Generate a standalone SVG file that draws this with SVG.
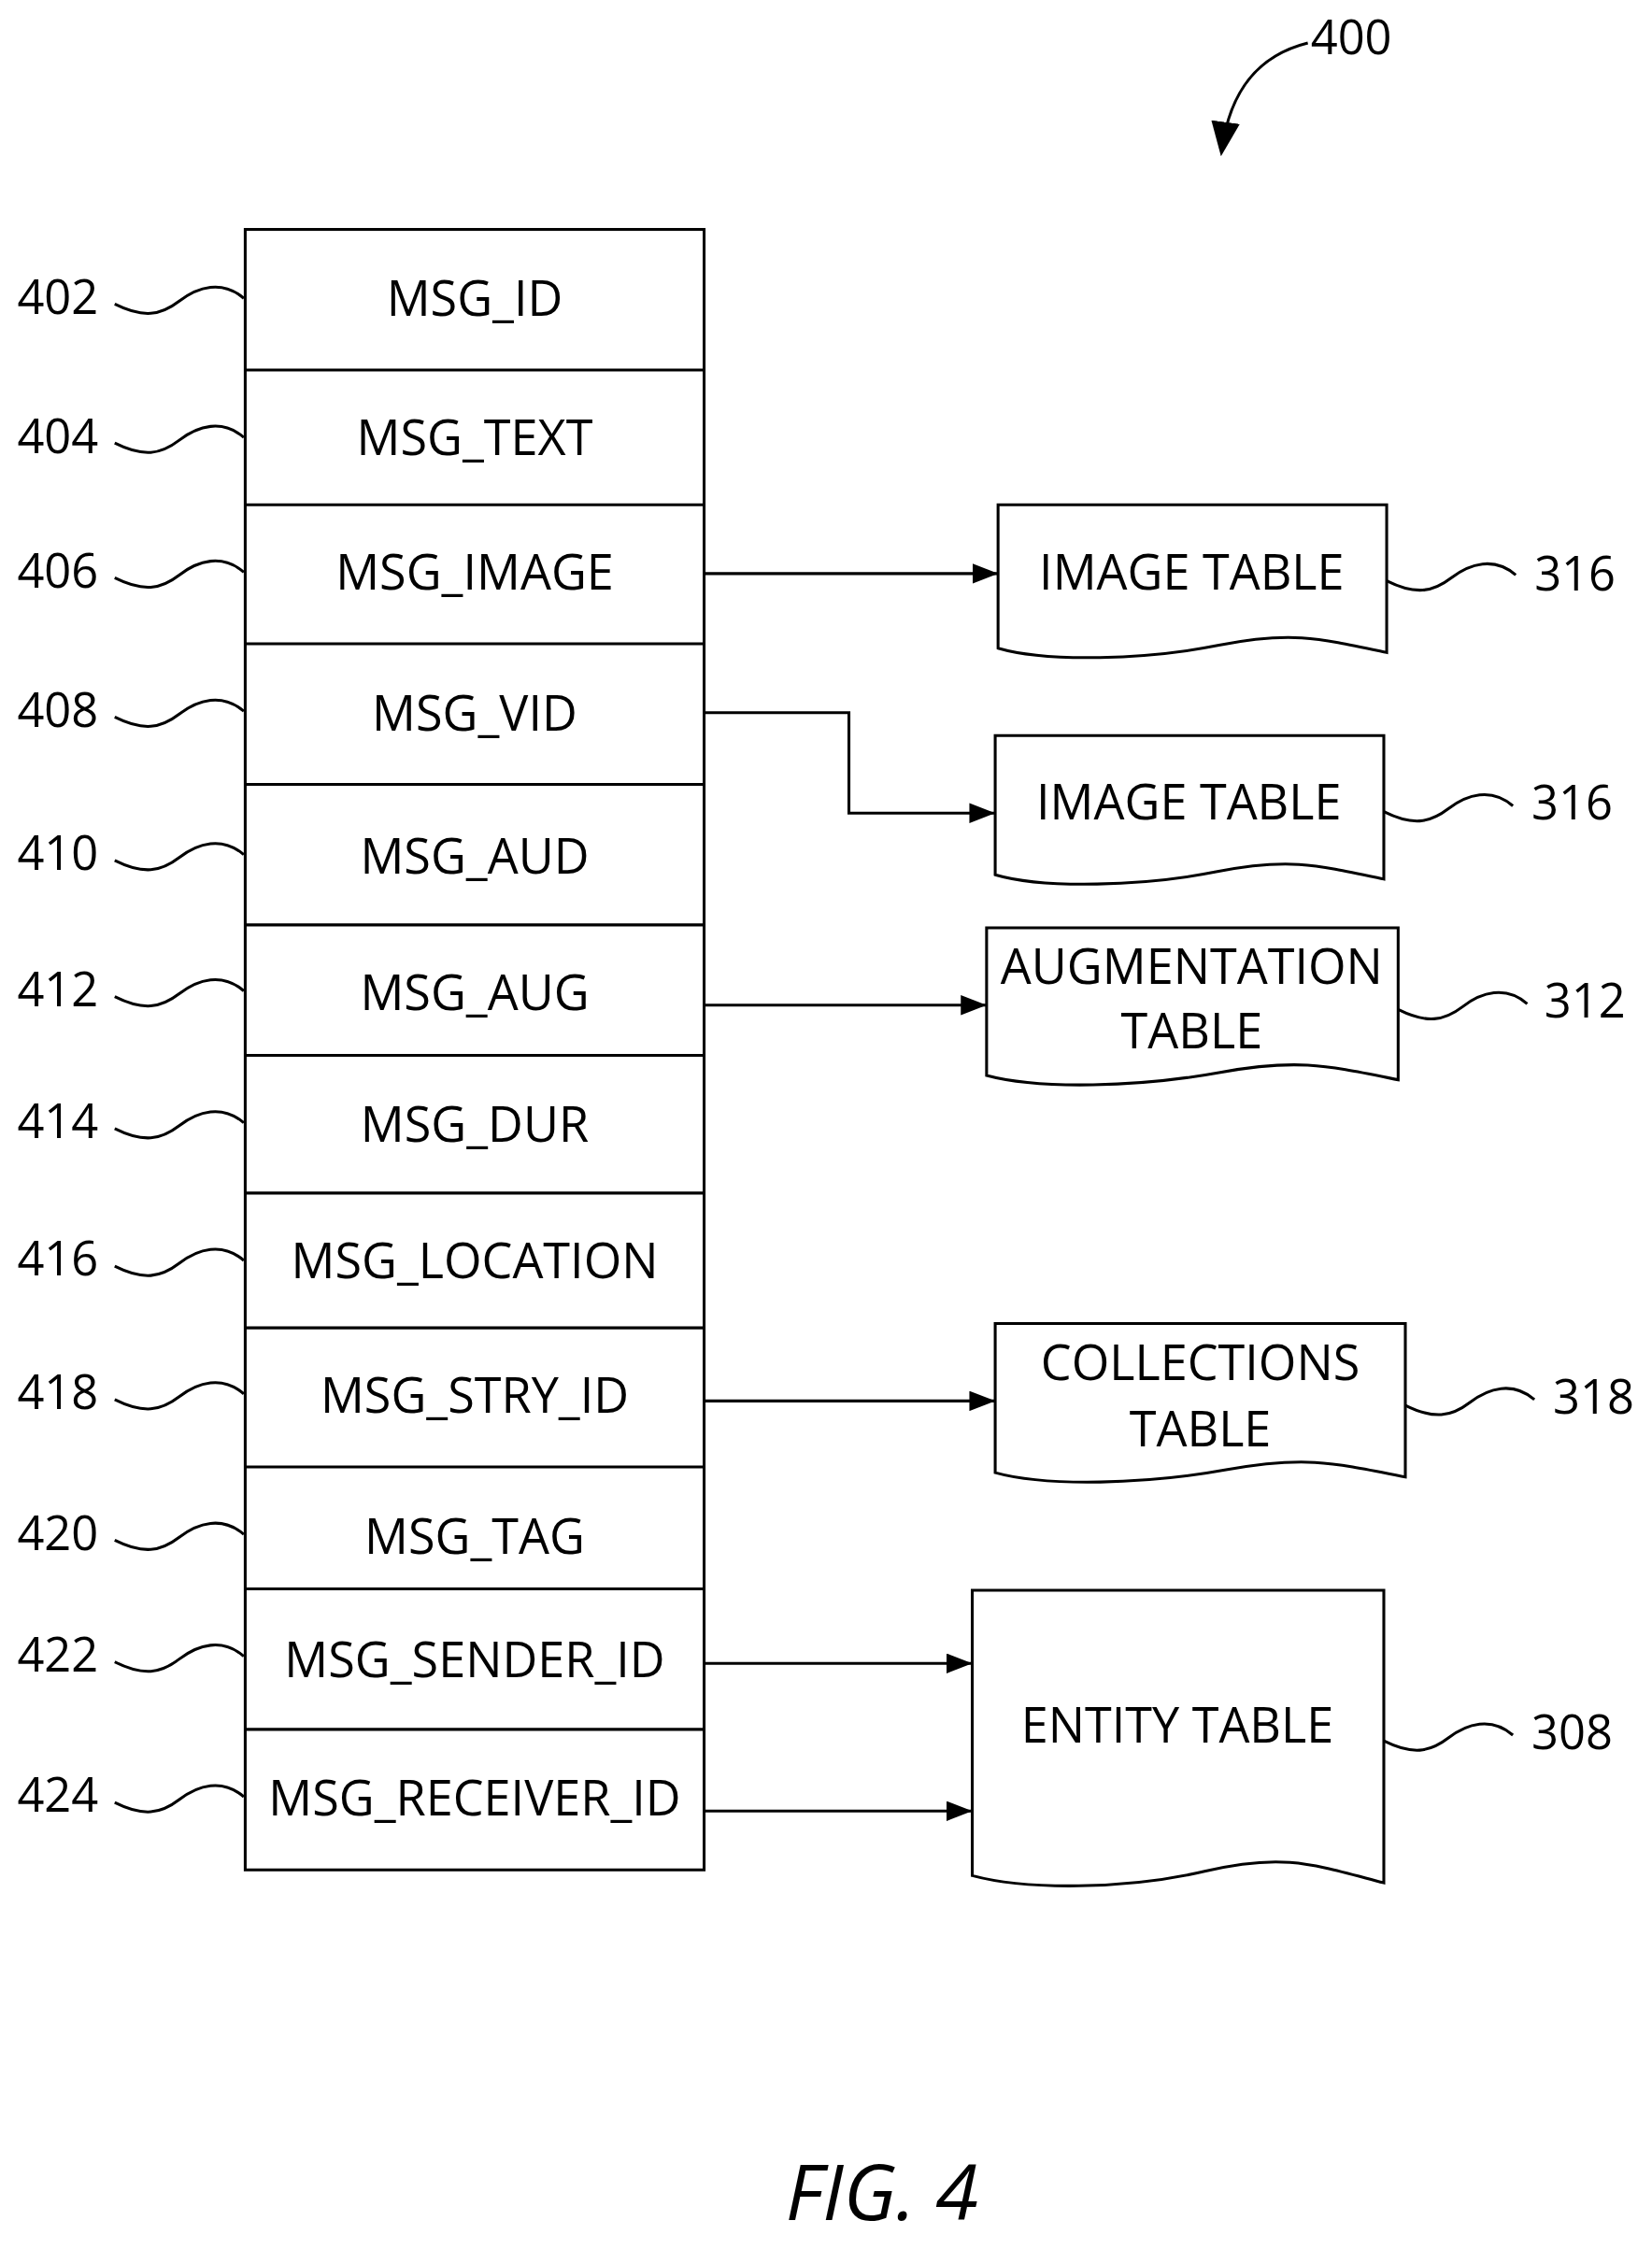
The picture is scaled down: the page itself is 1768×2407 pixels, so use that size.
<svg xmlns="http://www.w3.org/2000/svg" width="1768" height="2407" viewBox="0 0 1768 2407">
<style>
.b{fill:#fff;stroke:#000;stroke-width:2}
.l{fill:none;stroke:#000;stroke-width:2}
.t{font-family:"Open Sans","Liberation Sans",sans-serif;font-size:34px;text-anchor:middle;dominant-baseline:central;fill:#000}
.n{font-family:"Open Sans","Liberation Sans",sans-serif;font-size:33px;dominant-baseline:central;fill:#000}
</style>
<defs><marker id="a" markerWidth="18" markerHeight="14" refX="18" refY="7" orient="auto" markerUnits="userSpaceOnUse"><path d="M0,0 L18,7 L0,14 z"/></marker>
<marker id="b" markerWidth="24" markerHeight="20" refX="20" refY="10" orient="auto" markerUnits="userSpaceOnUse"><path d="M0,0 L24,10 L0,20 z"/></marker></defs>
<rect width="1768" height="2407" fill="#fff"/>
<g transform="scale(1.5347)">
<g id="table">
<rect class="b" x="171" y="160" width="320" height="1144"/>
<path class="l" d="M171,258H491M171,352H491M171,449H491M171,547H491M171,645H491M171,736H491M171,832H491M171,926H491M171,1023H491M171,1108H491M171,1206H491"/>
<text class="t" x="331" y="207">MSG_ID</text>
<text class="t" x="331" y="304">MSG_TEXT</text>
<text class="t" x="331" y="398">MSG_IMAGE</text>
<text class="t" x="331" y="496">MSG_VID</text>
<text class="t" x="331" y="596">MSG_AUD</text>
<text class="t" x="331" y="691">MSG_AUG</text>
<text class="t" x="331" y="783">MSG_DUR</text>
<text class="t" x="331" y="878">MSG_LOCATION</text>
<text class="t" x="331" y="972">MSG_STRY_ID</text>
<text class="t" x="331" y="1070">MSG_TAG</text>
<text class="t" x="331" y="1156">MSG_SENDER_ID</text>
<text class="t" x="331" y="1253">MSG_RECEIVER_ID</text>
</g>
<g id="refs">
<text class="n" x="12" y="206">402</text><path class="l" d="M80,212c20,10 32,8 45,-2s30,-15 45,-2"/>
<text class="n" x="12" y="303">404</text><path class="l" d="M80,309c20,10 32,8 45,-2s30,-15 45,-2"/>
<text class="n" x="12" y="397">406</text><path class="l" d="M80,403c20,10 32,8 45,-2s30,-15 45,-2"/>
<text class="n" x="12" y="494">408</text><path class="l" d="M80,500c20,10 32,8 45,-2s30,-15 45,-2"/>
<text class="n" x="12" y="594">410</text><path class="l" d="M80,600c20,10 32,8 45,-2s30,-15 45,-2"/>
<text class="n" x="12" y="689">412</text><path class="l" d="M80,695c20,10 32,8 45,-2s30,-15 45,-2"/>
<text class="n" x="12" y="781">414</text><path class="l" d="M80,787c20,10 32,8 45,-2s30,-15 45,-2"/>
<text class="n" x="12" y="877">416</text><path class="l" d="M80,883c20,10 32,8 45,-2s30,-15 45,-2"/>
<text class="n" x="12" y="970">418</text><path class="l" d="M80,976c20,10 32,8 45,-2s30,-15 45,-2"/>
<text class="n" x="12" y="1068">420</text><path class="l" d="M80,1074c20,10 32,8 45,-2s30,-15 45,-2"/>
<text class="n" x="12" y="1153">422</text><path class="l" d="M80,1159c20,10 32,8 45,-2s30,-15 45,-2"/>
<text class="n" x="12" y="1251">424</text><path class="l" d="M80,1257c20,10 32,8 45,-2s30,-15 45,-2"/>
</g>
<g id="img1">
<path class="b" d="M696,352H967V455C920,445 900,440 850,450S730,462 696,452Z"/>
<text class="t" x="831" y="398">IMAGE TABLE</text>
<path class="l" d="M967,405c20,10 32,8 45,-2s30,-15 45,-2"/><text class="n" x="1070" y="399">316</text>
</g>
<g id="img2">
<path class="b" d="M694,513H965V613C918,603 898,598 848,608S728,620 694,610Z"/>
<text class="t" x="829" y="558">IMAGE TABLE</text>
<path class="l" d="M965,566c20,10 32,8 45,-2s30,-15 45,-2"/><text class="n" x="1068" y="559">316</text>
</g>
<g id="aug">
<path class="b" d="M688,647H975V753C925,743 905,738 850,748S725,760 688,750Z"/>
<text class="t" x="831" y="673">AUGMENTATION</text><text class="t" x="831" y="718">TABLE</text>
<path class="l" d="M975,704c20,10 32,8 45,-2s30,-15 45,-2"/><text class="n" x="1077" y="697">312</text>
</g>
<g id="coll">
<path class="b" d="M694,923H980V1030C930,1020 910,1015 855,1025S730,1037 694,1027Z"/>
<text class="t" x="837" y="949">COLLECTIONS</text><text class="t" x="837" y="995">TABLE</text>
<path class="l" d="M980,980c20,10 32,8 45,-2s30,-15 45,-2"/><text class="n" x="1083" y="973">318</text>
</g>
<g id="entity">
<path class="b" d="M678,1109H965V1313C915,1300 895,1292 840,1305S715,1318 678,1308Z"/>
<text class="t" x="821" y="1202">ENTITY TABLE</text>
<path class="l" d="M965,1214c20,10 32,8 45,-2s30,-15 45,-2"/><text class="n" x="1068" y="1207">308</text>
</g>
<g id="connectors">
<path class="l" d="M491,400H696" marker-end="url(#a)"/>
<path class="l" d="M491,497H592V567H694" marker-end="url(#a)"/>
<path class="l" d="M491,701H688" marker-end="url(#a)"/>
<path class="l" d="M491,977H694" marker-end="url(#a)"/>
<path class="l" d="M491,1160H678" marker-end="url(#a)"/>
<path class="l" d="M491,1263H678" marker-end="url(#a)"/>
<path class="l" d="M912,30C880,38 858,60 852,105" marker-end="url(#b)"/>
</g>
<text class="n" x="914" y="25">400</text>
<text x="615" y="1548" font-family="'Open Sans','Liberation Sans',sans-serif" font-style="italic" font-size="54" text-anchor="middle">FIG. 4</text>
</g>
</svg>
